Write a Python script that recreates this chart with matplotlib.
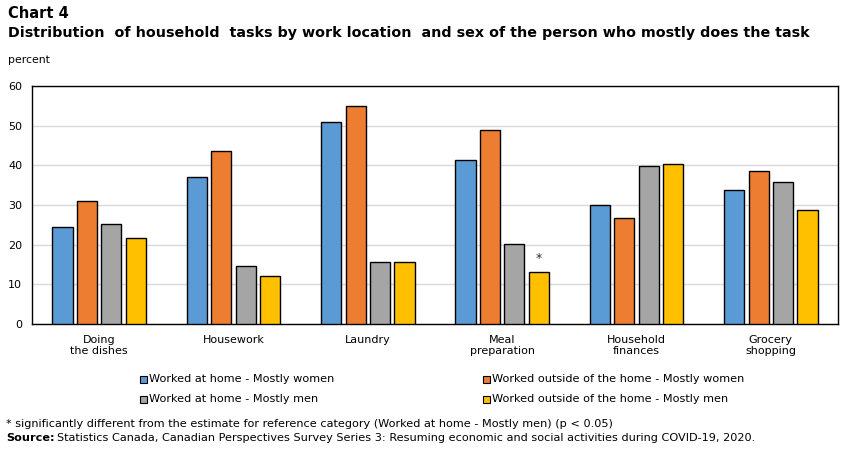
import matplotlib.pyplot as plt
import numpy as np

categories = ["Doing\nthe dishes", "Housework", "Laundry", "Meal\npreparation", "Household\nfinances", "Grocery\nshopping"]
series_names = ["Worked at home - Mostly women", "Worked outside of the home - Mostly women",
                "Worked at home - Mostly men", "Worked outside of the home - Mostly men"]
home_women = [24.5, 37.1, 50.9, 41.3, 30.0, 33.8]
outside_women = [31.0, 43.6, 55.0, 48.9, 26.7, 38.6]
home_men = [25.2, 14.6, 15.6, 20.2, 39.8, 35.8]
outside_men = [21.7, 12.1, 15.6, 13.1, 40.3, 28.7]
significant = [(3, 3)]  # (category index, series index)
colors = ["#5b9bd5", "#ed7d31", "#a5a5a5", "#ffc000"]

plt.rcParams['font.family'] = ['DejaVu Sans']
fig = plt.figure(figsize=(8.51, 4.55), dpi=100)
ax = fig.add_axes([32/851, 1-324/455, 806/851, 238/455])

series = [home_women, outside_women, home_men, outside_men]
x = np.arange(len(categories))
w = 0.15
step = 0.182
for i, vals in enumerate(series):
    ax.bar(x + (i - 1.5) * step, vals, width=w, color=colors[i], edgecolor='black', linewidth=1.0, zorder=3)
for ci, si in significant:
    ax.text(x[ci] + (si - 1.5) * step, series[si][ci] + 3.5, "*", ha='center', va='center',
            fontsize=9, color='#4b1d3a')

ax.set_xlim(-0.5, len(categories) - 0.5)
ax.set_ylim(0, 60)
ax.set_yticks(range(0, 61, 10))
ax.yaxis.grid(True, color='#d9d9d9', linewidth=1, zorder=0)
ax.set_axisbelow(True)
ax.tick_params(axis='y', length=0, labelsize=8, pad=7)
ax.tick_params(axis='x', length=0, labelsize=8, pad=8)
ax.set_xticks(x)
ax.set_xticklabels(categories, linespacing=1.1)
for s in ax.spines.values():
    s.set_linewidth(1.0)
    s.set_color('black')

fig.text(8/851, 1-14/455, "Chart 4", fontsize=10.5, fontweight='bold', va='center', ha='left')
fig.text(8/851, 1-33/455, "Distribution  of household  tasks by work location  and sex of the person who mostly does the task",
         fontsize=10.3, fontweight='bold', va='center', ha='left')
fig.text(8/851, 1-60/455, "percent", fontsize=7.8, va='center', ha='left')

legend_pos = [(140, 379), (483, 379), (140, 399), (483, 399)]
for i, (px, py) in enumerate(legend_pos):
    fig.patches.append(plt.Rectangle((px/851, 1-(py+4)/455), 7/851, 7/455, transform=fig.transFigure,
                                     facecolor=colors[i], edgecolor='black', linewidth=0.8))
    fig.text((px+9)/851, 1-py/455, series_names[i], fontsize=8.1, va='center', ha='left')

fig.text(6/851, 1-424/455, "* significantly different from the estimate for reference category (Worked at home - Mostly men) (p < 0.05)",
         fontsize=8.1, va='center', ha='left')
fig.text(6/851, 1-438/455, "Source:", fontsize=8.1, fontweight='bold', va='center', ha='left')
fig.text(57/851, 1-438/455, "Statistics Canada, Canadian Perspectives Survey Series 3: Resuming economic and social activities during COVID-19, 2020.",
         fontsize=8.1, va='center', ha='left')

fig.savefig("out.png", dpi=100)
